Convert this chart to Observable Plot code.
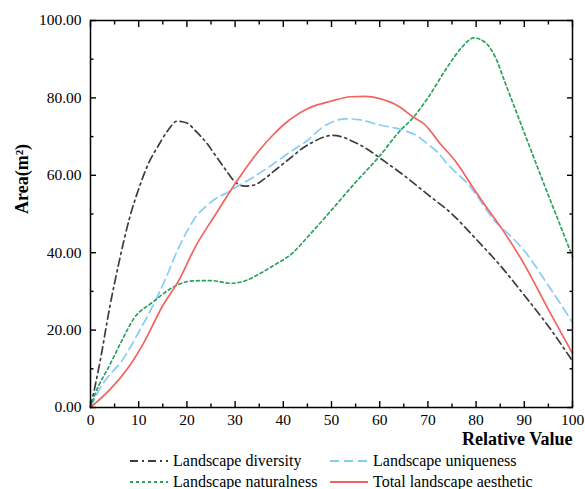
<!DOCTYPE html>
<html><head><meta charset="utf-8">
<script src="https://cdn.jsdelivr.net/npm/d3@7"></script>
<script src="https://cdn.jsdelivr.net/npm/@observablehq/plot@0.6"></script>
<style>
body{margin:0;background:#fff;font-family:"Liberation Serif","Times New Roman",serif;}
#wrap{position:relative;width:585px;height:489px;overflow:hidden;}
#wrap > svg{position:absolute;left:0;top:0;}
.leg{position:absolute;font-size:16px;line-height:16px;white-space:nowrap;color:#000;font-family:"Liberation Serif","Times New Roman",serif;}
.leg svg{position:absolute;left:0;top:3px;}
.leg span{position:absolute;top:0;}
</style></head><body><div id="wrap"></div>
<script>
// ---- data ----
const seriesNames = ["Landscape diversity", "Landscape uniqueness", "Landscape naturalness", "Total landscape aesthetic"];
const diversityX = [0,2,4,6,8,10,12,14,16,18,20,22,24,26,28,30,32,34,36,38,40,42,44,46,48,50,52,54,56,58,60,65,70,75,80,85,90,95,100];
const diversityY = [0,12,26,38,48.5,56.5,63,67.5,71.5,74,73.5,71.2,68.5,65,61.5,58.3,57.2,57.5,59,61,63,65,67,68.5,69.7,70.3,70,69,67.8,66.3,64.5,60,55,50,43.5,36.7,29,21,12];
const uniquenessX = [0,2,4,6,8,10,12,14,16,18,20,22,24,26,28,30,32,35,38,40,42,45,48,50,53,56,60,65,68,70,72,74,76,78,80,84,87,90,95,100];
const uniquenessY = [0,5,8.5,11.2,15,19.5,24,29,34.5,40.5,45.5,49.5,52,54,55.3,56.8,58.2,60.5,63,64.8,66.5,69,72.3,73.7,74.6,74.3,73,71.6,70,68,66,63,60.5,58.2,55,48,44.5,40.5,31.5,22];
const naturalnessX = [0,1,4,6.5,9,13,17,21,25,29,32,35,38,42,45,50,55,60,64,67,70,74,77,79.5,82,84,86,88,90,92,94,97,100];
const naturalnessY = [0,3.6,11,17.3,23,27.3,31,32.7,32.8,32.1,32.7,34.5,36.7,40,44,51,58.2,65,71.2,75,80,87.9,93,95.5,94.2,90.5,84,77.5,71,64.5,58,48.5,39];
const totalX = [0,4,8,11.3,14.8,18.3,21.7,26,30,33,35,38,40,45,50,54,57,60,64,67,69.2,72.6,76,79,82,85,90,95,100];
const totalY = [0,4.6,10.6,17.3,25.9,32.8,41.4,50,57.8,63.2,66.4,70.6,73,77.2,79.2,80.3,80.4,79.8,77.8,75,73.3,68.1,63.2,57.5,52,46.8,37,25.3,14];
const xMajor = [0,10,20,30,40,50,60,70,80,90,100];
const xMinor = [5,15,25,35,45,55,65,75,85,95];
const yMajor = [0,20,40,60,80,100];
const yMinor = [10,30,50,70,90];

// ---- styles ----
const styles = [
  {color:"#3d3d3d", dash:"8,4,2,4"},
  {color:"#85cdf8", dash:"9,5"},
  {color:"#2ba25c", dash:"3,3"},
  {color:"#f4625f", dash:null}
];
const xs = [diversityX, uniquenessX, naturalnessX, totalX];
const ys = [diversityY, uniquenessY, naturalnessY, totalY];
const tables = xs.map((xa, i) => xa.map((x, j) => ({x, y: ys[i][j]})));

const fam = '"Liberation Serif", "Times New Roman", serif';
const tk = (data, anchor, size, extra) => (anchor === "bottom" || anchor === "top")
  ? Plot.axisX(data, {anchor, tickSize: size, tickFormat: () => "", strokeWidth: 1.4, label: null, ...extra})
  : Plot.axisY(data, {anchor, tickSize: size, tickFormat: () => "", strokeWidth: 1.4, label: null, ...extra});

const chart = Plot.plot({
  width: 585, height: 452,
  marginLeft: 90, marginRight: 13, marginTop: 20, marginBottom: 45,
  style: {fontFamily: fam, color: "#000", background: "#fff"},
  x: {domain: [0, 100], label: null},
  y: {domain: [0, 100], label: null},
  marks: [
    ...tables.map((t, i) => Plot.line(t, {x: "x", y: "y", curve: "monotone-x", stroke: styles[i].color, strokeWidth: 1.7, strokeDasharray: styles[i].dash})),
    Plot.frame({stroke: "#000", strokeWidth: 1.5}),
    tk(xMajor, "bottom", 6, {dy: -6}), tk(xMinor, "bottom", 3.5, {dy: -3.5}),
    tk(xMajor, "top", 6, {dy: 6}), tk(xMinor, "top", 3.5, {dy: 3.5}),
    tk(yMajor, "left", 6, {dx: 6}), tk(yMinor, "left", 3.5, {dx: 3.5}),
    tk(yMajor, "right", 6, {dx: -6}), tk(yMinor, "right", 3.5, {dx: -3.5}),
    Plot.axisX(xMajor, {anchor: "bottom", tickSize: 0, tickPadding: 6, fontSize: 15.5, fontFamily: fam, label: null, tickFormat: d3.format("d")}),
    Plot.axisY(yMajor, {anchor: "left", tickSize: 0, tickPadding: 9, fontSize: 15.5, fontFamily: fam, label: null, tickFormat: d3.format(".2f")}),
    Plot.text(["Area(m²)"], {frameAnchor: "left", dx: -68, rotate: -90, fontWeight: "bold", fontSize: 18, fontFamily: fam, fill: "#000"}),
    Plot.text(["Relative Value"], {frameAnchor: "bottom-right", dy: 37, textAnchor: "end", fontWeight: "bold", fontSize: 18, fontFamily: fam, fill: "#000"})
  ]
});
const wrap = document.getElementById("wrap");
wrap.appendChild(chart);

// ---- legend ----
const legPos = [[130, 453], [330, 453], [130, 474], [330, 474]];
seriesNames.forEach((name, i) => {
  const d = document.createElement("div");
  d.className = "leg";
  d.style.left = legPos[i][0] + "px";
  d.style.top = legPos[i][1] + "px";
  d.innerHTML = `<svg width="40" height="10"><line x1="0" x2="38" y1="5" y2="5" stroke="${styles[i].color}" stroke-width="1.8" ${styles[i].dash ? `stroke-dasharray="${styles[i].dash}"` : ""}/></svg><span style="left:43px">${name}</span>`;
  wrap.appendChild(d);
});
</script>
</body></html>
